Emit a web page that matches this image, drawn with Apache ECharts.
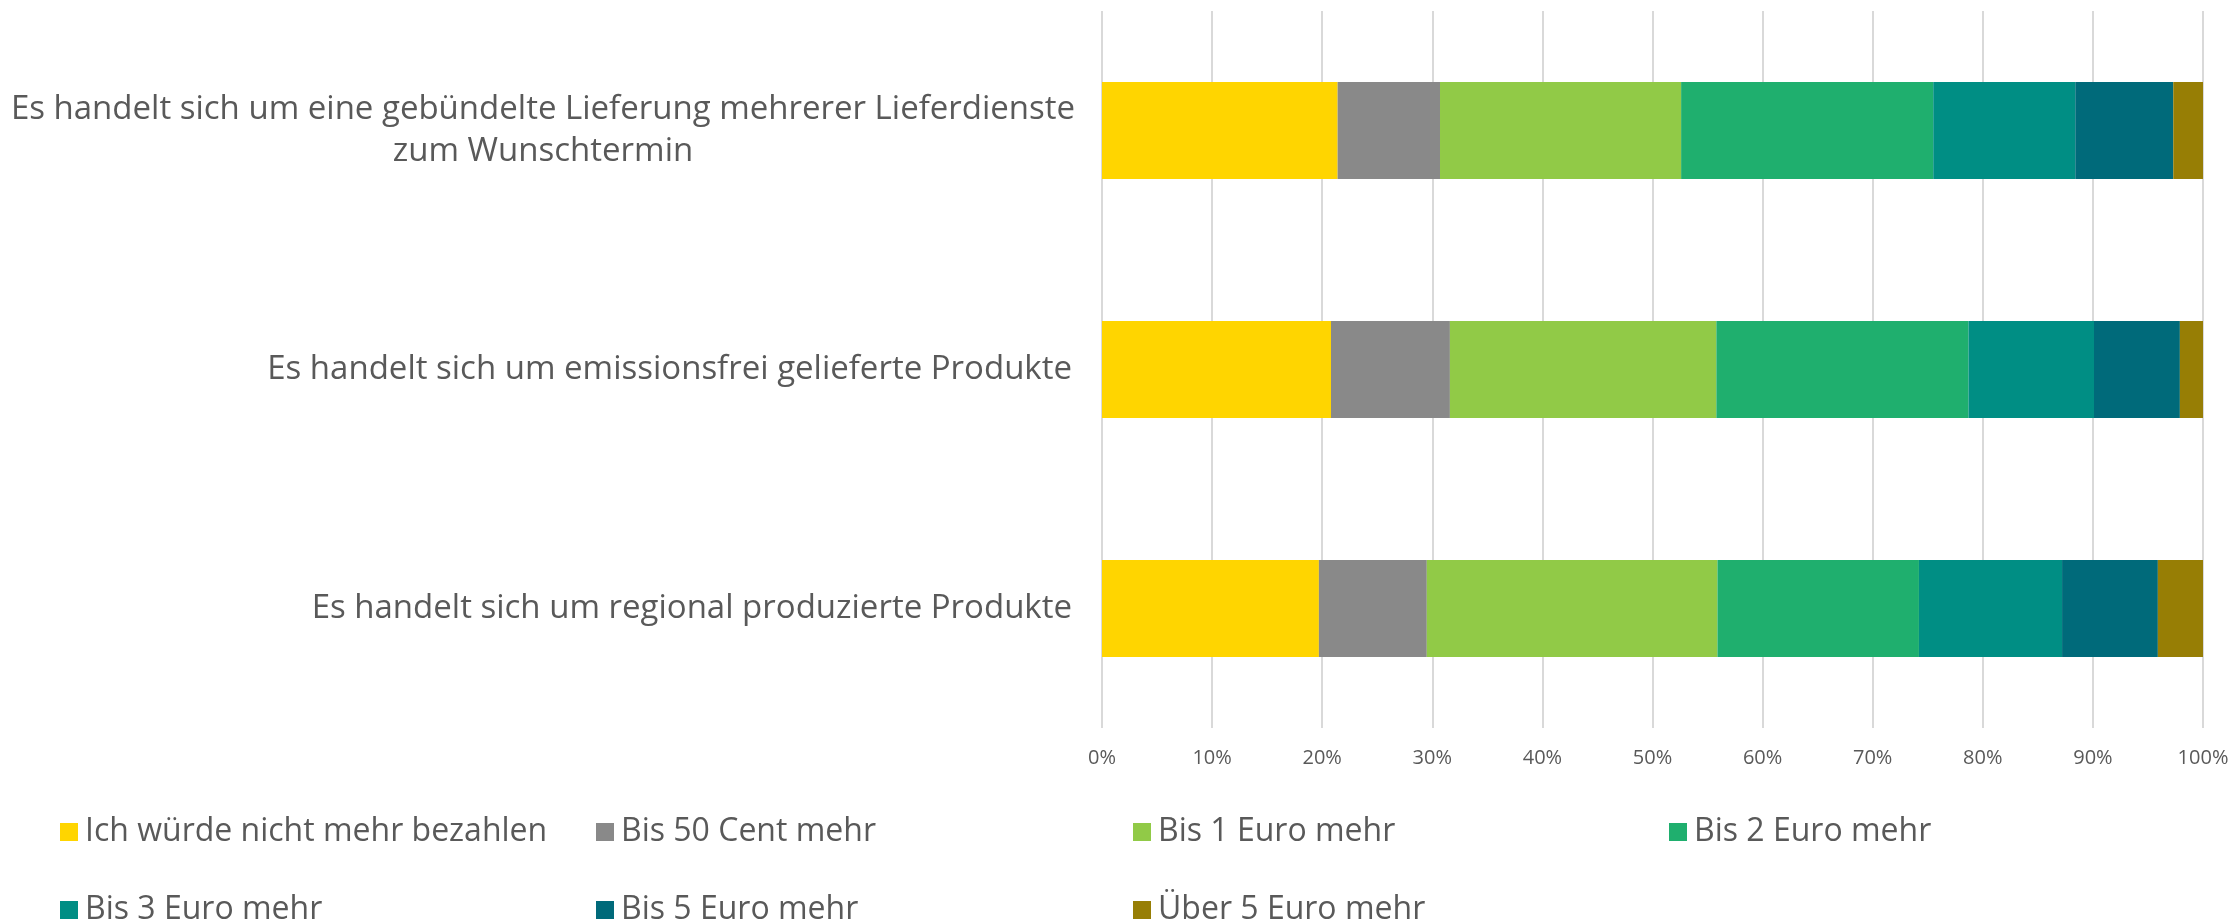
<!DOCTYPE html>
<html style="height: 100%">
    <head>
        <meta charset="utf-8">
    </head>
    <body style="height: 100%; margin: 0; background: #ffffff">
        <div id="container" style="width: 2236px; height: 923px"></div>

        <script type="text/javascript" src="https://cdn.jsdelivr.net/npm/echarts@6/dist/echarts.min.js"></script>

        <script type="text/javascript">
var dom = document.getElementById("container");
var myChart = echarts.init(dom);

// categories, top to bottom
var categories = [
    'Es handelt sich um eine gebündelte Lieferung mehrerer Lieferdienste\nzum Wunschtermin',
    'Es handelt sich um emissionsfrei gelieferte Produkte',
    'Es handelt sich um regional produzierte Produkte'
];

var seriesNames = [
    'Ich würde nicht mehr bezahlen',
    'Bis 50 Cent mehr',
    'Bis 1 Euro mehr',
    'Bis 2 Euro mehr',
    'Bis 3 Euro mehr',
    'Bis 5 Euro mehr',
    'Über 5 Euro mehr'
];

// percent values per answer, in category order
var nichtMehr = [21.4, 20.8, 19.7];
var bis50Cent = [9.3, 10.8, 9.8];
var bis1Euro  = [21.9, 24.2, 26.4];
var bis2Euro  = [22.9, 22.9, 18.3];
var bis3Euro  = [12.9, 11.4, 13.0];
var bis5Euro  = [8.9, 7.8, 8.7];
var ueber5    = [2.7, 2.1, 4.1];

var xTicks = [0, 10, 20, 30, 40, 50, 60, 70, 80, 90, 100];

var colors = ['#FFD500', '#898989', '#91CA47', '#1FAF6E', '#008E84', '#006A7A', '#977E05'];
var allData = [nichtMehr, bis50Cent, bis1Euro, bis2Euro, bis3Euro, bis5Euro, ueber5];

var textColor = '#595959';
var fontFamily = '"Open Sans"';

var series = seriesNames.map(function (name, i) {
    return {
        name: name,
        type: 'bar',
        stack: 'total',
        barWidth: 97,
        itemStyle: { color: colors[i] },
        data: allData[i]
    };
});

// one legend per item, placed on the 4-column / 2-row grid of the original
var legendLeft = [60, 596, 1133, 1669, 60, 596, 1133];
var legendTop  = [816, 816, 816, 816, 894, 894, 894];

var legends = seriesNames.map(function (name, i) {
    return {
        left: legendLeft[i],
        top: legendTop[i],
        padding: 0,
        itemWidth: 18,
        itemHeight: 18,
        icon: 'rect',
        textStyle: { color: textColor, fontSize: 32, lineHeight: 28, fontFamily: fontFamily, padding: [0, 0, 0, 2] },
        data: [name]
    };
});

var option = {
    animation: false,
    color: colors,
    grid: {
        left: 1102,
        right: 33,
        top: 11,
        height: 717
    },
    legend: legends,
    xAxis: {
        type: 'value',
        min: xTicks[0],
        max: xTicks[xTicks.length - 1],
        interval: 10,
        axisLine: { show: false },
        axisTick: { show: false },
        splitLine: { lineStyle: { color: '#d9d9d9', width: 2 } },
        axisLabel: {
            formatter: '{value}%',
            color: textColor,
            fontSize: 20,
            fontFamily: fontFamily,
            margin: 20
        }
    },
    yAxis: {
        type: 'category',
        inverse: true,
        data: categories,
        axisLine: { show: false },
        axisTick: { show: false },
        axisLabel: {
            margin: 30,
            color: textColor,
            fontSize: 33,
            fontFamily: fontFamily,
            formatter: function (v) {
                if (v.indexOf('\n') < 0) return v;
                return v.split('\n').map(function (s) { return '{w|' + s + '}'; }).join('\n');
            },
            rich: {
                w: {
                    width: 1058,
                    align: 'center',
                    lineHeight: 42,
                    color: textColor,
                    fontSize: 33,
                    fontFamily: fontFamily
                }
            }
        }
    },
    series: series
};

if (option && typeof option === 'object') {
    myChart.setOption(option);
}
        </script>
    </body>
</html>
